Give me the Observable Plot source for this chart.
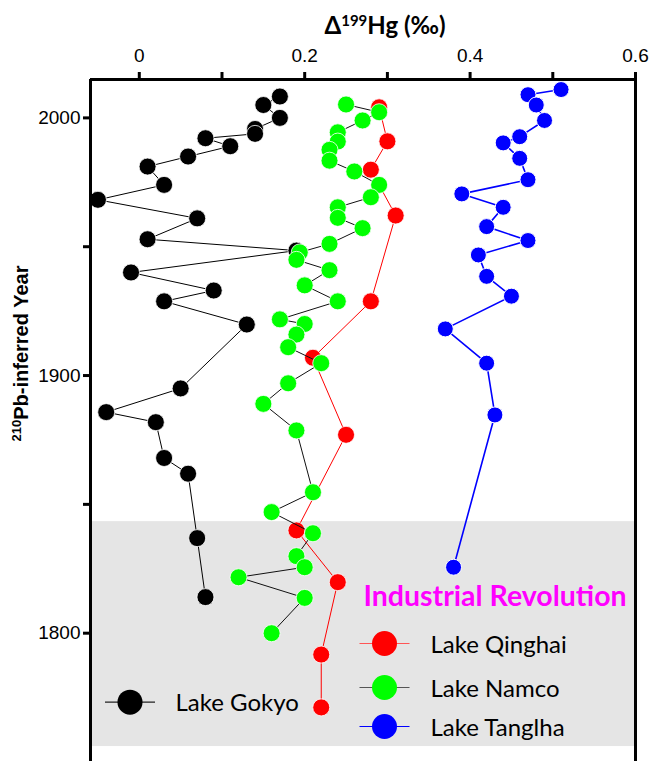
<!DOCTYPE html>
<html><head><meta charset="utf-8">
<script src="https://cdn.jsdelivr.net/npm/d3@7"></script>
<script src="https://cdn.jsdelivr.net/npm/@observablehq/plot@0.6"></script>
<style>body{margin:0;background:#fff} #chart{width:652px;height:761px}</style>
</head><body><div id="chart"></div>
<script>
// ---- data ----
const gokyoYear = [2008.3,2005.0,2000.0,1995.7,1993.8,1992.1,1989.0,1985.0,1981.1,1974.0,1968.2,1961.0,1952.9,1948.5,1940.0,1933.0,1928.8,1919.8,1895.0,1885.8,1881.9,1868.0,1861.9,1836.9,1814.0];
const gokyoD199 = [0.170,0.150,0.170,0.140,0.140,0.080,0.110,0.059,0.010,0.030,-0.050,0.070,0.010,0.190,-0.010,0.090,0.030,0.130,0.050,-0.040,0.020,0.030,0.059,0.070,0.080];

const namcoYear = [2005.2,2002.2,1999.0,1994.4,1990.8,1987.6,1983.4,1979.2,1974.0,1969.2,1965.3,1961.2,1957.2,1951.1,1947.8,1944.9,1940.9,1935.0,1928.8,1921.8,1920.0,1915.9,1911.0,1904.8,1897.0,1889.0,1878.7,1854.7,1847.0,1838.8,1829.9,1825.6,1821.7,1813.7,1800.0];
const namcoD199 = [0.250,0.290,0.270,0.240,0.240,0.230,0.230,0.260,0.290,0.280,0.240,0.240,0.270,0.230,0.194,0.190,0.230,0.200,0.240,0.170,0.200,0.190,0.180,0.220,0.180,0.150,0.190,0.210,0.160,0.210,0.190,0.200,0.120,0.200,0.160];

const qinghaiYear = [2004.1,1990.9,1979.9,1962.1,1928.8,1906.9,1877.0,1839.9,1819.8,1791.7,1771.2];
const qinghaiD199 = [0.290,0.300,0.280,0.310,0.280,0.210,0.250,0.190,0.240,0.220,0.220];

const tanglhaYear = [2011.0,2009.0,2005.0,1999.0,1992.7,1990.3,1984.3,1976.0,1970.5,1965.3,1957.8,1952.4,1946.8,1938.5,1930.8,1918.1,1904.8,1884.7,1825.6];
const tanglhaD199 = [0.510,0.470,0.480,0.490,0.460,0.440,0.460,0.470,0.390,0.440,0.420,0.470,0.410,0.420,0.450,0.370,0.420,0.430,0.380];

const industrialStart = 1843.3;
const industrialEnd = 1756.0;
const industrialLabel = "Industrial Revolution";

const xMajorTicks = [0, 0.2, 0.4, 0.6];
const xMinorTicks = [0.1, 0.3, 0.5];
const yMajorTicks = [1800, 1900, 2000];
const yMinorTicks = [1850, 1950];
const xDomain = [-0.059, 0.6];
const yDomain = [1750.2, 2014.9];

const xTitle = "Δ199Hg (‰)";
const yTitle = "210Pb-inferred Year";

const legendNames = ["Lake Qinghai", "Lake Namco", "Lake Tanglha"];
const legendFill = ["#ff0000", "#00ff00", "#0000ff"];
const legendLine = ["#ff5555", "#555555", "#0000ff"];
const gokyoName = "Lake Gokyo";

// ---- build ----
const rows = (ys, vs) => ys.map((y, i) => ({year: y, d: vs[i]}));
const gokyo = rows(gokyoYear, gokyoD199);
const namco = rows(namcoYear, namcoD199);
const qinghai = rows(qinghaiYear, qinghaiD199);
const tanglha = rows(tanglhaYear, tanglhaD199);

const lineSym = {draw(ctx) { ctx.moveTo(-25, 0); ctx.lineTo(25, 0); }};
const legendDy = [564, 608, 647];

const plot = Plot.plot({
  width: 652, height: 761,
  marginTop: 79, marginLeft: 90, marginRight: 17, marginBottom: 0,
  style: {fontFamily: "Lato, sans-serif", background: "white", overflow: "visible"},
  x: {domain: xDomain},
  y: {domain: yDomain},
  marks: [
    Plot.rect([{a: industrialStart, b: industrialEnd}], {y1: "a", y2: "b", fill: "#e5e5e5"}),
    Plot.line(gokyo, {x: "d", y: "year", stroke: "#000", strokeWidth: 1}),
    Plot.dot(gokyo, {x: "d", y: "year", r: 8.5, fill: "#000", stroke: "white", strokeWidth: 0.8}),
    Plot.line(qinghai, {x: "d", y: "year", stroke: "#ff0000", strokeWidth: 1}),
    Plot.dot(qinghai, {x: "d", y: "year", r: 8.5, fill: "#ff0000", stroke: "white", strokeWidth: 0.8}),
    Plot.line(tanglha, {x: "d", y: "year", stroke: "#0000ff", strokeWidth: 1.6}),
    Plot.dot(tanglha, {x: "d", y: "year", r: 8, fill: "#0000ff", stroke: "white", strokeWidth: 1}),
    Plot.line(namco, {x: "d", y: "year", stroke: "#111", strokeWidth: 1}),
    Plot.dot(namco, {x: "d", y: "year", r: 8.5, fill: "#00ff00", stroke: "white", strokeWidth: 0.8}),
    // frame
    Plot.ruleX([xDomain[0], xDomain[1]], {strokeWidth: 3}),
    Plot.ruleY([yDomain[1]], {strokeWidth: 3}),
    // axes
    Plot.axisX(xMajorTicks, {anchor: "top", tickSize: 8, tickPadding: 10, strokeWidth: 3, label: null,
      tickFormat: d => String(d), fontSize: 19, fontFamily: "Liberation Sans, Arial, sans-serif"}),
    Plot.axisX(xMinorTicks, {anchor: "top", tickSize: 8, strokeWidth: 3, label: null, tickFormat: () => ""}),
    Plot.axisY(yMajorTicks, {anchor: "left", tickSize: 7, tickPadding: 3, strokeWidth: 3, label: null,
      tickFormat: d => String(d), fontSize: 19, fontFamily: "Liberation Sans, Arial, sans-serif"}),
    Plot.axisY(yMinorTicks, {anchor: "left", tickSize: 7, strokeWidth: 3, label: null, tickFormat: () => ""}),
    // titles
    Plot.text([xTitle], {frameAnchor: "top", dx: 22, dy: -53, lineAnchor: "middle", textAnchor: "middle",
      fontSize: 24, fontWeight: "bold", fontFamily: "Lato, sans-serif"}),
    Plot.text([yTitle], {frameAnchor: "left", dx: -69, dy: -67, rotate: -90, textAnchor: "middle", lineAnchor: "middle",
      fontSize: 20, fontWeight: "bold", fontFamily: "Liberation Sans, Arial, sans-serif"}),
    Plot.text([industrialLabel], {frameAnchor: "top-left", dx: 273, dy: 517, textAnchor: "start", lineAnchor: "middle",
      fontSize: 28.5, fontWeight: "bold", fill: "#ff00ff"}),
    // legend
    ...legendNames.flatMap((name, i) => [
      Plot.dot([name], {frameAnchor: "top-left", dx: 294, dy: legendDy[i], symbol: lineSym, stroke: legendLine[i], strokeWidth: 1.2, fill: "none"}),
      Plot.dot([name], {frameAnchor: "top-left", dx: 294, dy: legendDy[i], r: 12.5, fill: legendFill[i]}),
      Plot.text([name], {frameAnchor: "top-left", dx: 340, dy: legendDy[i] + 2, textAnchor: "start", lineAnchor: "middle", fontSize: 24, fill: "#000"})
    ]),
    Plot.dot([gokyoName], {frameAnchor: "top-left", dx: 39.5, dy: 622.7, symbol: lineSym, stroke: "#222", strokeWidth: 1.2, fill: "none"}),
    Plot.dot([gokyoName], {frameAnchor: "top-left", dx: 39.5, dy: 622.7, r: 12.5, fill: "#000"}),
    Plot.text([gokyoName], {frameAnchor: "top-left", dx: 85, dy: 624, textAnchor: "start", lineAnchor: "middle", fontSize: 24, fill: "#000"})
  ]
});

// superscripts as real tspans
const NS = "http://www.w3.org/2000/svg";
function supify(full, parts, supSize, shift) {
  const t = Array.from(plot.querySelectorAll("text")).find(e => e.textContent === full);
  if (!t) return;
  t.textContent = "";
  let prevSup = false;
  for (const [s, sup] of parts) {
    const ts = document.createElementNS(NS, "tspan");
    ts.textContent = s;
    if (sup) { ts.setAttribute("font-size", supSize); ts.setAttribute("dy", -shift); }
    else if (prevSup) { ts.setAttribute("dy", shift); }
    prevSup = sup;
    t.appendChild(ts);
  }
}
supify(xTitle, [["Δ", false], ["199", true], ["Hg (‰)", false]], 15, 8);
supify(yTitle, [["210", true], ["Pb-inferred Year", false]], 13, 7);

document.getElementById("chart").appendChild(plot);
</script>
</body></html>
